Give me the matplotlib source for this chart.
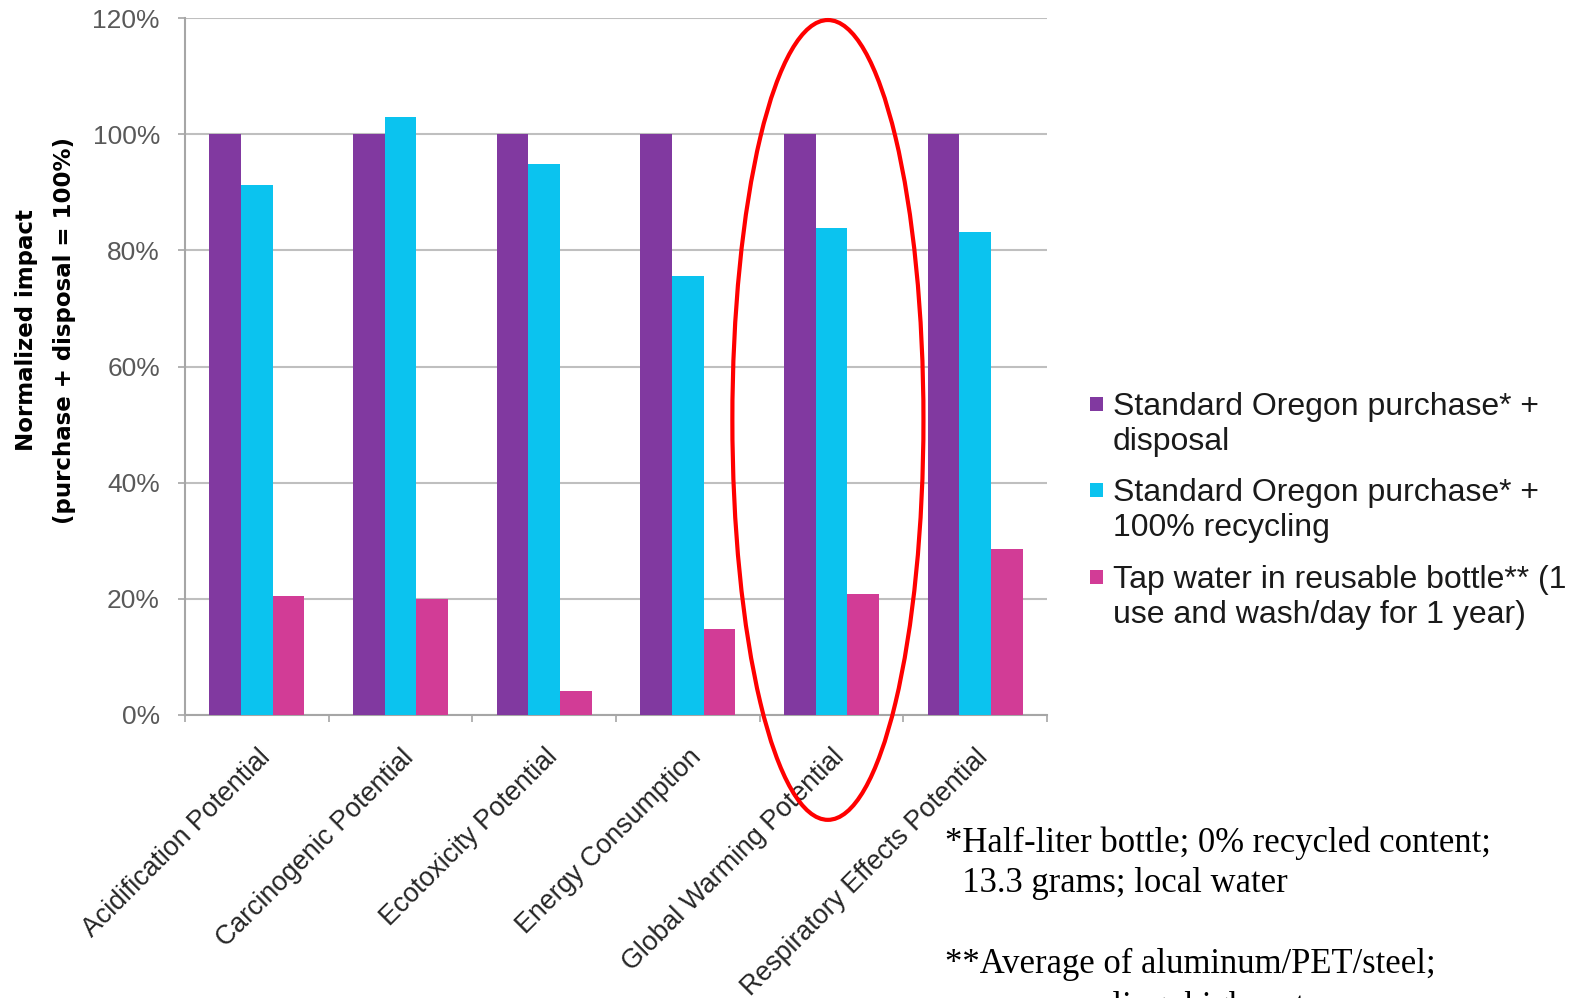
import matplotlib
matplotlib.use("Agg")
import matplotlib.pyplot as plt
from matplotlib.patches import Ellipse, Rectangle
import numpy as np

categories = ["Acidification Potential", "Carcinogenic Potential", "Ecotoxicity Potential",
              "Energy Consumption", "Global Warming Potential", "Respiratory Effects Potential"]
series_names = ["Standard Oregon purchase* +\ndisposal",
                "Standard Oregon purchase* +\n100% recycling",
                "Tap water in reusable bottle** (1\nuse and wash/day for 1 year)"]
disposal = [100, 100, 100, 100, 100, 100]
recycling = [91.3, 103.0, 94.9, 75.6, 83.9, 83.2]
tap_water = [20.5, 20.0, 4.1, 14.8, 20.8, 28.6]
yticks = [0, 20, 40, 60, 80, 100, 120]
colors = ["#8139A0", "#0BC3EF", "#D23C96"]
highlight_index = 4

W, H = 1572, 998
fig = plt.figure(figsize=(W/100, H/100), dpi=100)
ax = fig.add_axes([185/W, 1-715/H, (1047-185)/W, (715-18)/H])

x = np.arange(len(categories))
w = 0.22
for k, vals in enumerate([disposal, recycling, tap_water]):
    ax.bar(x + (k-1)*w, vals, width=w, color=colors[k], zorder=3)

ax.set_xlim(-0.5, len(categories)-0.5)
ax.set_ylim(0, 120)
ax.set_yticks(yticks)
ax.set_yticklabels([f"{v}%" for v in yticks], fontsize=19, color="#595959", family="Liberation Sans")
ax.yaxis.grid(True, color="#BFBFBF", linewidth=1.5, zorder=0)
ax.tick_params(axis="y", length=5, width=1.2, color="#A6A6A6", pad=13)
for s in ["top", "right"]:
    ax.spines[s].set_visible(False)
for s in ["left", "bottom"]:
    ax.spines[s].set_color("#A6A6A6")
    ax.spines[s].set_linewidth(1.5)

ax.set_xticks(x)
ax.set_xticklabels(categories, rotation=45, ha="right", va="top", rotation_mode="anchor",
                   fontsize=19.3, color="#262626", family="Liberation Sans")
ax.tick_params(axis="x", length=0, pad=21)
ax.set_xticks(np.arange(-0.5, len(categories)), minor=True)
ax.tick_params(axis="x", which="minor", length=5, width=1.2, color="#A6A6A6")

ylab = dict(rotation=90, ha="center", va="center", fontsize=16.5, fontweight="bold",
            family="DejaVu Sans")
fig.text(27/W, 1-330/H, "Normalized impact", **ylab)
fig.text(65/W, 1-330/H, "(purchase + disposal = 100%)", **ylab)

ell = Ellipse((highlight_index - 0.025, 50.8), width=1.33, height=137.7, fill=False,
              edgecolor="#FF0000", linewidth=3.0, clip_on=False, zorder=5)
ax.add_patch(ell)

# legend drawn manually
entry_y = [404, 490, 577]
for c, name, yc in zip(colors, series_names, entry_y):
    fig.patches.append(Rectangle((1090/W, 1-(yc+7)/H), 13/W, 14/H, transform=fig.transFigure,
                                 facecolor=c, edgecolor="none"))
    fig.text(1113/W, 1-(yc-12)/H, name, ha="left", va="top", fontsize=23,
             family="Liberation Sans", color="#1a1a1a", linespacing=1.23)

fn = dict(fontsize=24.9, family="Liberation Serif", color="black", ha="left", va="baseline")
fig.text(945/W, 1-852/H, "*Half-liter bottle; 0% recycled content;", **fn)
fig.text(945/W, 1-892/H, "  13.3 grams; local water", **fn)
fig.text(945/W, 1-973/H, "**Average of aluminum/PET/steel;", **fn)
fig.text(1037/W, 1-1016/H, "recycling; high water", **fn)

fig.savefig("out.png", dpi=100)
